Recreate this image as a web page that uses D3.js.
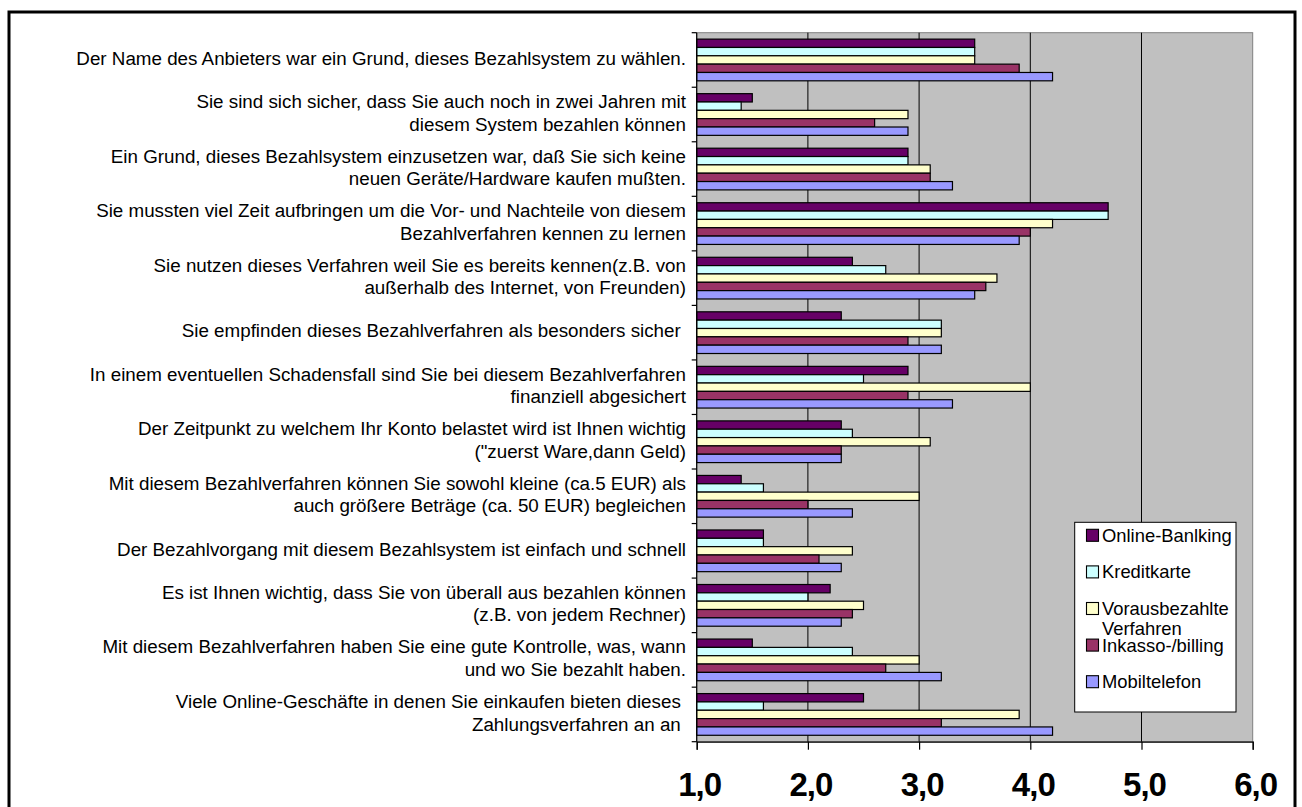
<!DOCTYPE html>
<html>
<head>
<meta charset="utf-8">
<script src="https://cdn.jsdelivr.net/npm/d3@7"></script>
<style>
  html, body { margin: 0; padding: 0; background: #fff; }
  svg { display: block; font-family: "Liberation Sans", Arial, sans-serif; }
</style>
</head>
<body>
<svg id="chart" width="1302" height="807"></svg>
<script>
// ---- data ----
const categories = [
  "Der Name des Anbieters war ein Grund, dieses Bezahlsystem zu wählen.",
  "Sie sind sich sicher, dass Sie auch noch in zwei Jahren mit\ndiesem System bezahlen können",
  "Ein Grund, dieses Bezahlsystem einzusetzen war, daß Sie sich keine\nneuen Geräte/Hardware kaufen mußten.",
  "Sie mussten viel Zeit aufbringen um die Vor- und Nachteile von diesem\nBezahlverfahren kennen zu lernen",
  "Sie nutzen dieses Verfahren weil Sie es bereits kennen(z.B. von\naußerhalb des Internet, von Freunden)",
  "Sie empfinden dieses Bezahlverfahren als besonders sicher ",
  "In einem eventuellen Schadensfall sind Sie bei diesem Bezahlverfahren\nfinanziell abgesichert",
  "Der Zeitpunkt zu welchem Ihr Konto belastet wird ist Ihnen wichtig\n(\"zuerst Ware,dann Geld)",
  "Mit diesem Bezahlverfahren können Sie sowohl kleine (ca.5 EUR) als\nauch größere Beträge (ca. 50 EUR) begleichen",
  "Der Bezahlvorgang mit diesem Bezahlsystem ist einfach und schnell",
  "Es ist Ihnen wichtig, dass Sie von überall aus bezahlen können\n(z.B. von jedem Rechner)",
  "Mit diesem Bezahlverfahren haben Sie eine gute Kontrolle, was, wann\nund wo Sie bezahlt haben.",
  "Viele Online-Geschäfte in denen Sie einkaufen bieten dieses \nZahlungsverfahren an an "
];
const seriesNames = ["Online-Banlking", "Kreditkarte", "Vorausbezahlte\nVerfahren", "Inkasso-/billing", "Mobiltelefon"];
const onlineBanking = [3.5, 1.5, 2.9, 4.7, 2.4, 2.3, 2.9, 2.3, 1.4, 1.6, 2.2, 1.5, 2.5];
const kreditkarte   = [3.5, 1.4, 2.9, 4.7, 2.7, 3.2, 2.5, 2.4, 1.6, 1.6, 2.0, 2.4, 1.6];
const vorausbezahlt = [3.5, 2.9, 3.1, 4.2, 3.7, 3.2, 4.0, 3.1, 3.0, 2.4, 2.5, 3.0, 3.9];
const inkasso       = [3.9, 2.6, 3.1, 4.0, 3.6, 2.9, 2.9, 2.3, 2.0, 2.1, 2.4, 2.7, 3.2];
const mobiltelefon  = [4.2, 2.9, 3.3, 3.9, 3.5, 3.2, 3.3, 2.3, 2.4, 2.3, 2.3, 3.2, 4.2];
const xTicks = [1, 2, 3, 4, 5, 6];
const xTickLabels = ["1,0", "2,0", "3,0", "4,0", "5,0", "6,0"];

const seriesValues = [onlineBanking, kreditkarte, vorausbezahlt, inkasso, mobiltelefon];
const colors = ["#660066", "#CCFFFF", "#FFFFCC", "#993366", "#9999FF"];

// ---- layout ----
const svg = d3.select("#chart");
const plot = { left: 696.7, right: 1252.7, top: 32.7, bottom: 741.7 };

svg.append("rect").attr("width", 1302).attr("height", 807).attr("fill", "#fff");
// outer frame
svg.append("rect")
  .attr("x", 9).attr("y", 12).attr("width", 1286).attr("height", 830)
  .attr("fill", "none").attr("stroke", "#000").attr("stroke-width", 3);

const x = d3.scaleLinear().domain([1, 6]).range([plot.left, plot.right]);
const y = d3.scaleBand().domain(d3.range(categories.length)).range([plot.top, plot.bottom]).padding(0);
const ySeries = d3.scaleBand().domain(d3.range(seriesValues.length))
  .range([0, y.step()]).paddingInner(0).paddingOuter(0.77);

// plot background
svg.append("rect")
  .attr("x", plot.left).attr("y", plot.top)
  .attr("width", plot.right - plot.left).attr("height", plot.bottom - plot.top)
  .attr("fill", "#C0C0C0").attr("stroke", "#808080").attr("stroke-width", 1);

// gridlines
svg.append("g").selectAll("line").data(xTicks.filter(t => t > 1 && t < 6)).join("line")
  .attr("x1", d => x(d)).attr("x2", d => x(d))
  .attr("y1", plot.top).attr("y2", plot.bottom)
  .attr("stroke", "#000").attr("stroke-width", 1);

// bars
const groups = svg.append("g").selectAll("g").data(categories).join("g")
  .attr("transform", (d, i) => `translate(0,${y(i)})`);
groups.selectAll("rect").data((d, i) => seriesValues.map((s, k) => ({ k, v: s[i] }))).join("rect")
  .attr("x", x(1))
  .attr("y", d => ySeries(d.k))
  .attr("width", d => x(d.v) - x(1))
  .attr("height", ySeries.bandwidth())
  .attr("fill", d => colors[d.k])
  .attr("stroke", "#000").attr("stroke-width", 1.2);

// x axis
const xAxis = d3.axisBottom(x).tickValues(xTicks).tickSize(8).tickFormat("");
const gx = svg.append("g").attr("transform", `translate(0,${plot.bottom})`).call(xAxis);
gx.select(".domain").attr("stroke", "#000").attr("stroke-width", 1.2);
gx.selectAll(".tick line").attr("stroke", "#000").attr("stroke-width", 1.2);
svg.append("g").selectAll("text").data(xTicks).join("text")
  .attr("x", d => x(d) + 3).attr("y", 796)
  .attr("text-anchor", "middle")
  .attr("font-size", 33).attr("font-weight", "bold")
  .attr("letter-spacing", "-1px")
  .attr("fill", "#000")
  .text((d, i) => xTickLabels[i]);

// y axis line + category boundary ticks
svg.append("line")
  .attr("x1", plot.left).attr("x2", plot.left)
  .attr("y1", plot.top).attr("y2", plot.bottom)
  .attr("stroke", "#000").attr("stroke-width", 1.2);
const boundaries = d3.range(categories.length + 1).map(i => plot.top + i * y.step());
svg.append("g").selectAll("line").data(boundaries).join("line")
  .attr("x1", plot.left - 5).attr("x2", plot.left)
  .attr("y1", d => d).attr("y2", d => d)
  .attr("stroke", "#000").attr("stroke-width", 1.2);

// category labels
const lineH = 22.6;
const labels = svg.append("g").selectAll("text").data(categories).join("text")
  .attr("text-anchor", "end")
  .attr("font-size", 18.8)
  .attr("fill", "#000")
  .style("white-space", "pre")
  .attr("xml:space", "preserve");
labels.each(function (d, i) {
  const lines = d.split("\n");
  const cy = y(i) + y.step() / 2;
  d3.select(this).selectAll("tspan").data(lines).join("tspan")
    .attr("x", 686)
    .attr("y", (l, j) => cy + 4.8 + (j - (lines.length - 1) / 2) * lineH)
    .text(l => l);
});

// legend
const lg = svg.append("g");
lg.append("rect")
  .attr("x", 1074.7).attr("y", 522.3).attr("width", 161.3).attr("height", 189.7)
  .attr("fill", "#fff").attr("stroke", "#000").attr("stroke-width", 1);
const legendY = d3.scalePoint().domain(d3.range(seriesNames.length)).range([535.3, 681.7]);
const items = lg.selectAll("g").data(seriesNames).join("g");
items.append("rect")
  .attr("x", 1086.5).attr("y", (d, i) => legendY(i) - 6)
  .attr("width", 12).attr("height", 12)
  .attr("fill", (d, i) => colors[i]).attr("stroke", "#000").attr("stroke-width", 1.1);
items.append("text")
  .attr("font-size", 18.4).attr("fill", "#000")
  .each(function (d, i) {
    d3.select(this).selectAll("tspan").data(d.split("\n")).join("tspan")
      .attr("x", 1102)
      .attr("y", (l, j) => legendY(i) + 6.5 + j * 19.5)
      .text(l => l);
  });
</script>
</body>
</html>
